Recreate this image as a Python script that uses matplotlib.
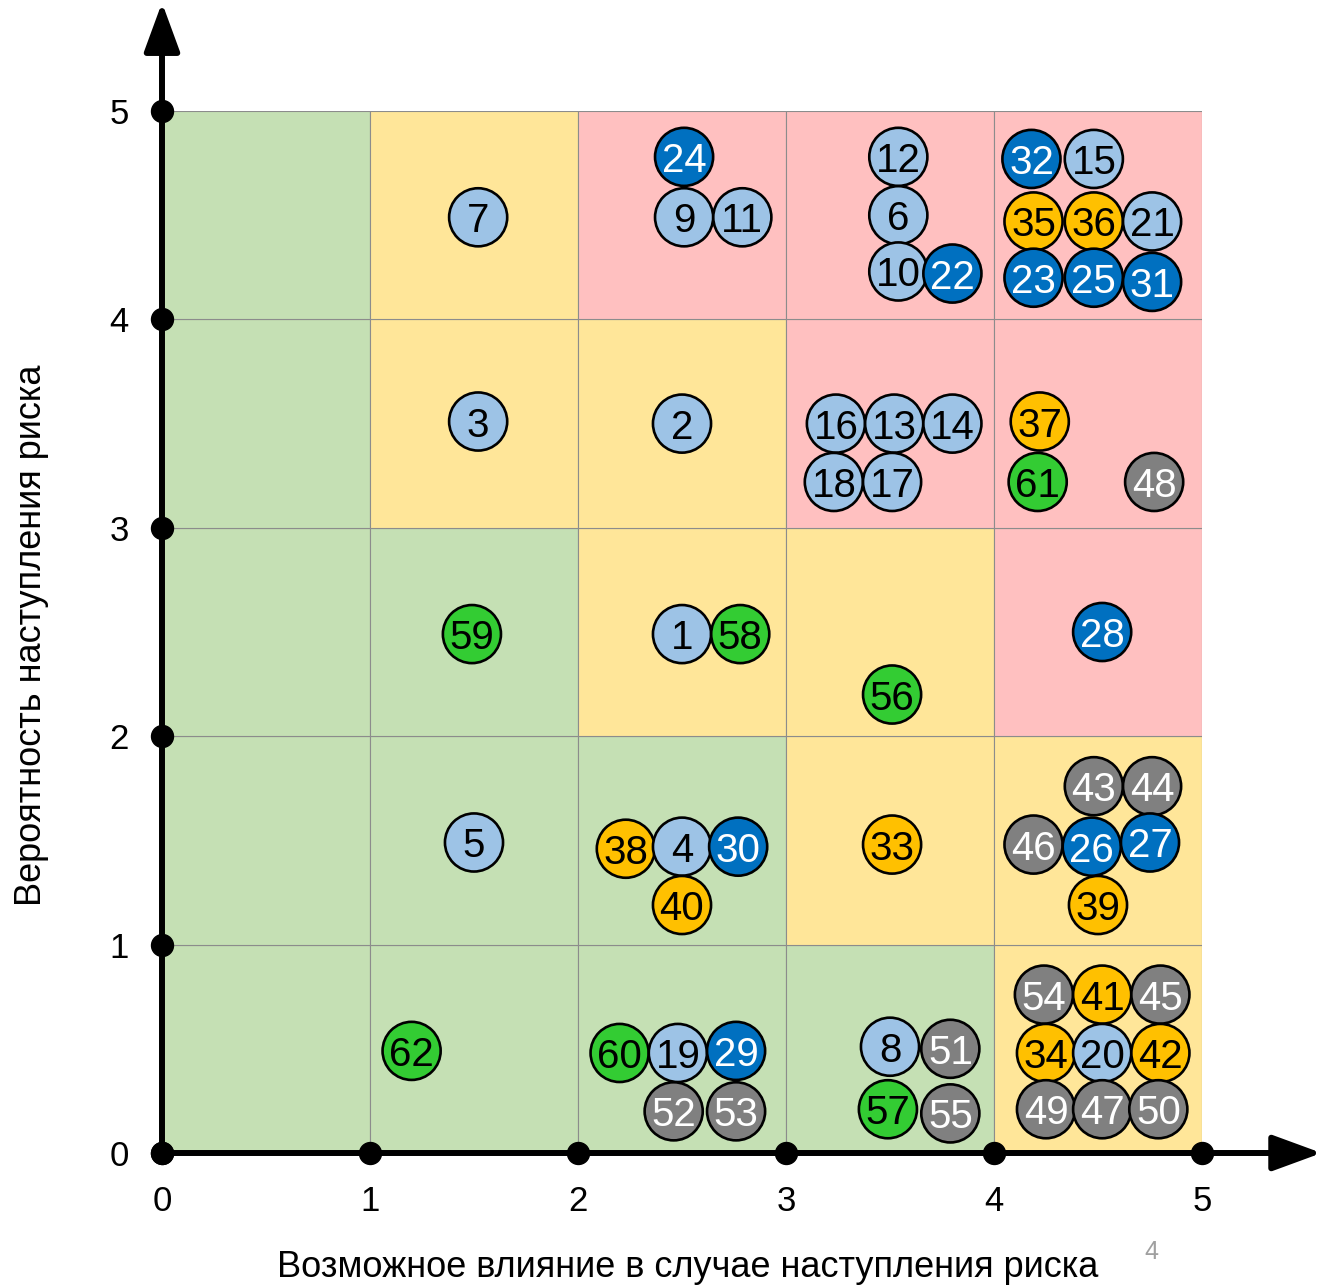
import matplotlib
matplotlib.use('Agg')
import matplotlib.pyplot as plt
from matplotlib.patches import Rectangle

plt.rcParams['font.family'] = ['Liberation Sans', 'DejaVu Sans']

# цвета зон матрицы (строки снизу вверх, столбцы слева направо)
zone_rows = [
    ['g', 'g', 'g', 'g', 'y'],
    ['g', 'g', 'g', 'y', 'y'],
    ['g', 'g', 'y', 'y', 'r'],
    ['g', 'y', 'y', 'r', 'r'],
    ['g', 'y', 'r', 'r', 'r'],
]
zone_colors = {'g': '#c5e0b4', 'y': '#ffe699', 'r': '#ffc0c0'}

# риски: номер, влияние, вероятность, категория
risk_id = [24, 9, 11, 7, 12, 6, 10, 22, 32, 15, 35, 36, 21, 23, 25, 31,
           3, 2, 16, 13, 14, 18, 17, 37, 61, 48,
           59, 1, 58, 56, 28,
           5, 38, 4, 30, 40, 33, 43, 44, 46, 26, 27, 39,
           62, 60, 19, 29, 52, 53, 8, 51, 57, 55,
           54, 41, 45, 34, 20, 42, 49, 47, 50]
impact = [2.51, 2.51, 2.79, 1.52, 3.54, 3.54, 3.54, 3.80, 4.18, 4.48, 4.19, 4.48, 4.76, 4.19, 4.48, 4.76,
          1.52, 2.50, 3.24, 3.52, 3.80, 3.23, 3.51, 4.22, 4.21, 4.77,
          1.49, 2.50, 2.78, 3.51, 4.52,
          1.50, 2.23, 2.50, 2.77, 2.50, 3.51, 4.48, 4.76, 4.19, 4.47, 4.75, 4.50,
          1.20, 2.20, 2.48, 2.76, 2.46, 2.76, 3.50, 3.79, 3.49, 3.79,
          4.24, 4.52, 4.80, 4.25, 4.52, 4.80, 4.25, 4.52, 4.79]
probability = [4.78, 4.49, 4.49, 4.49, 4.78, 4.50, 4.23, 4.22, 4.77, 4.77, 4.47, 4.47, 4.47, 4.20, 4.20, 4.18,
               3.51, 3.50, 3.50, 3.50, 3.50, 3.22, 3.22, 3.51, 3.22, 3.22,
               2.49, 2.49, 2.49, 2.20, 2.50,
               1.49, 1.46, 1.47, 1.47, 1.19, 1.48, 1.76, 1.76, 1.48, 1.47, 1.49, 1.19,
               0.49, 0.48, 0.48, 0.49, 0.20, 0.20, 0.51, 0.50, 0.21, 0.19,
               0.76, 0.76, 0.76, 0.48, 0.48, 0.48, 0.21, 0.21, 0.21]
category = ['db', 'lb', 'lb', 'lb', 'lb', 'lb', 'lb', 'db', 'db', 'lb', 'or', 'or', 'lb', 'db', 'db', 'db',
            'lb', 'lb', 'lb', 'lb', 'lb', 'lb', 'lb', 'or', 'gr', 'gy',
            'gr', 'lb', 'gr', 'gr', 'db',
            'lb', 'or', 'lb', 'db', 'or', 'or', 'gy', 'gy', 'gy', 'db', 'db', 'or',
            'gr', 'gr', 'lb', 'db', 'gy', 'gy', 'lb', 'gy', 'gr', 'gy',
            'gy', 'or', 'gy', 'or', 'lb', 'or', 'gy', 'gy', 'gy']
fill = {'lb': '#9dc3e6', 'db': '#0070c0', 'or': '#ffc000', 'gr': '#33cc33', 'gy': '#808080'}
text_col = {'lb': 'black', 'db': 'white', 'or': 'black', 'gr': 'black', 'gy': 'white'}

ticks = [0, 1, 2, 3, 4, 5]

fig = plt.figure(figsize=(13.21, 12.88), dpi=100)
ax = fig.add_axes([162 / 1321, 135 / 1288, 1040 / 1321, 1042 / 1288])
ax.set_xlim(0, 5)
ax.set_ylim(0, 5)
for s in ax.spines.values():
    s.set_visible(False)

for r, row in enumerate(zone_rows):
    for c, z in enumerate(row):
        ax.add_patch(Rectangle((c, r), 1, 1, facecolor=zone_colors[z],
                               edgecolor='#8c8c8c', linewidth=0.8, zorder=1))

# оси со стрелками
arr = dict(arrowstyle='-|>,head_length=1.5,head_width=0.55', lw=4.3, color='black',
           mutation_scale=20, shrinkA=0, shrinkB=0)
ax.annotate('', xy=(5.575, 0), xytext=(0, 0), arrowprops=arr,
            annotation_clip=False, zorder=3)
ax.annotate('', xy=(0, 5.52), xytext=(0, 0), arrowprops=arr,
            annotation_clip=False, zorder=3)
ax.scatter(ticks, [0] * 6, s=250, color='black', clip_on=False, zorder=4)
ax.scatter([0] * 6, ticks, s=250, color='black', clip_on=False, zorder=4)

ax.set_xticks(ticks)
ax.set_yticks(ticks)
ax.tick_params(axis='x', length=0, labelsize=25, pad=23)
ax.tick_params(axis='y', length=0, labelsize=25, pad=24)

# риски
ax.scatter(impact, probability, s=1750, c=[fill[k] for k in category],
           edgecolors='black', linewidths=1.9, zorder=5, clip_on=False)
for n, x, y, k in zip(risk_id, impact, probability, category):
    ax.text(x, y, str(n), ha='center', va='center_baseline', fontsize=29,
            color=text_col[k], zorder=6)

ax.set_xlabel('Возможное влияние в случае наступления риска', fontsize=26, va='center')
ax.xaxis.set_label_coords(0.505, -0.11)
ax.set_ylabel('Вероятность наступления риска', fontsize=26, va='center')
ax.yaxis.set_label_coords(-0.125, 0.497)

fig.text(1151 / 1321, 1 - 1252 / 1288, '4', fontsize=18, color='#a0a0a0',
         ha='center', va='center')

fig.savefig('out.png', dpi=100)
